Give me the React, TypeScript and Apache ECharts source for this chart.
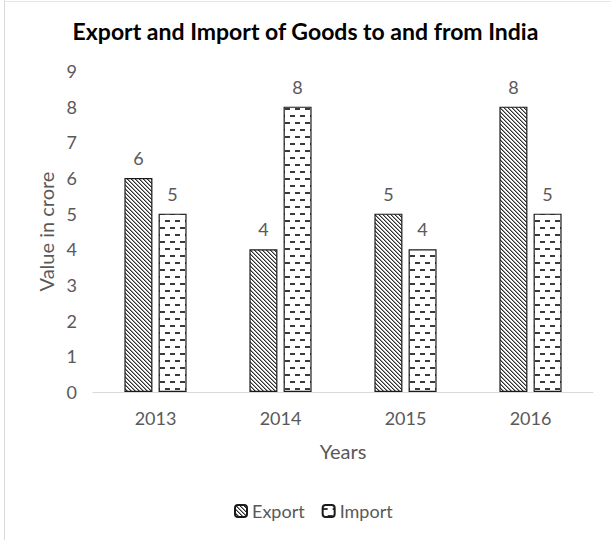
import React, { useEffect, useRef } from 'react';
import * as echarts from 'echarts';

const years = ['2013', '2014', '2015', '2016'];
const exportValues = [6, 4, 5, 8];
const importValues = [5, 8, 4, 5];
const seriesNames = ['Export', 'Import'];

function hatchPattern(): string {
  const c = document.createElement('canvas');
  c.width = 4;
  c.height = 4;
  const ctx = c.getContext('2d')!;
  ctx.fillStyle = '#ffffff';
  ctx.fillRect(0, 0, 4, 4);
  for (let i = 0; i < 4; i++) {
    ctx.fillStyle = '#2e2e2e';
    ctx.fillRect(i, i, 1, 1);
    ctx.fillStyle = '#9a9a9a';
    ctx.fillRect((i + 1) % 4, i, 1, 1);
  }
  return c.toDataURL();
}

function dashPattern(): string {
  const c = document.createElement('canvas');
  c.width = 10;
  c.height = 14;
  const ctx = c.getContext('2d')!;
  ctx.fillStyle = '#ffffff';
  ctx.fillRect(0, 0, 10, 14);
  ctx.fillStyle = '#3a3a3a';
  ctx.fillRect(0, 3, 5, 2);
  ctx.fillRect(5, 10, 5, 2);
  return c.toDataURL();
}

export default function App() {
  const ref = useRef<HTMLDivElement>(null);
  useEffect(() => {
    if (!ref.current) return;
    const chart = echarts.init(ref.current, undefined, { renderer: 'svg' });
    const font = 'Lato, "Open Sans", sans-serif';
    const hatch = { image: hatchPattern(), repeat: 'repeat' };
    const dash = { image: dashPattern(), repeat: 'repeat' };
    const label = {
      show: true,
      position: 'top',
      distance: 11,
      color: '#595959',
      fontSize: 18,
      fontFamily: font,
    };
    chart.setOption({
      animation: false,
      backgroundColor: '#ffffff',
      textStyle: { fontFamily: font },
      title: {
        text: 'Export and Import of Goods to and from India',
        left: 'center',
        top: 14,
        textStyle: { fontSize: 23, fontWeight: 'bold', color: '#000000', fontFamily: font },
      },
      legend: {
        data: seriesNames,
        bottom: 15,
        left: 229,
        itemWidth: 12,
        itemHeight: 12,
        itemGap: 17,
        textStyle: { color: '#595959', fontSize: 18, fontFamily: font },
      },
      grid: { left: 93, right: 18, top: 71, bottom: 148 },
      xAxis: {
        type: 'category',
        data: years,
        name: 'Years',
        nameLocation: 'middle',
        nameGap: 49,
        nameTextStyle: { color: '#595959', fontSize: 20, fontFamily: font },
        axisLine: { lineStyle: { color: '#d9d9d9', width: 1 } },
        axisTick: { show: false },
        axisLabel: { color: '#595959', fontSize: 18, margin: 17, fontFamily: font },
      },
      yAxis: {
        type: 'value',
        min: 0,
        max: 9,
        interval: 1,
        name: 'Value in crore',
        nameLocation: 'middle',
        nameGap: 36,
        nameTextStyle: { color: '#595959', fontSize: 20, fontFamily: font },
        axisLine: { show: false },
        axisTick: { show: false },
        splitLine: { show: false },
        axisLabel: { color: '#595959', fontSize: 18, margin: 16, fontFamily: font },
      },
      series: [
        {
          name: seriesNames[0],
          type: 'bar',
          data: exportValues,
          barWidth: 28,
          barGap: '22%',
          itemStyle: { color: hatch, borderColor: '#1a1a1a', borderWidth: 1.2 },
          label,
        },
        {
          name: seriesNames[1],
          type: 'bar',
          data: importValues,
          barWidth: 28,
          itemStyle: { color: dash, borderColor: '#1a1a1a', borderWidth: 1.2 },
          label,
        },
      ],
      graphic: [
        { type: 'line', shape: { x1: 4.5, y1: 0, x2: 4.5, y2: 540 }, style: { stroke: '#d9d9d9', lineWidth: 1 } },
        { type: 'line', shape: { x1: 4, y1: 1.5, x2: 611, y2: 1.5 }, style: { stroke: '#e6e6e6', lineWidth: 1 } },
      ],
    });
    return () => chart.dispose();
  }, []);
  return (
    <div
      ref={ref}
      style={{ position: 'fixed', left: 0, top: 0, width: 611, height: 540 }}
    />
  );
}
